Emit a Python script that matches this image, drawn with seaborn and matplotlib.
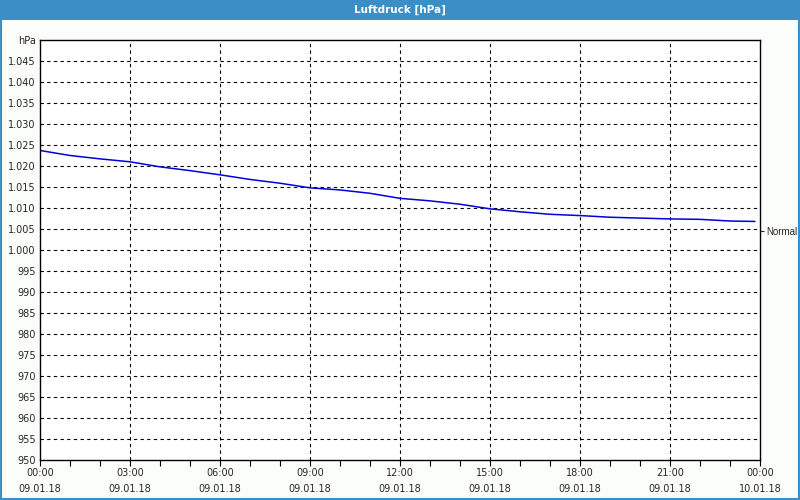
import matplotlib
matplotlib.use("Agg")
import matplotlib.pyplot as plt
import matplotlib.patches as mpatches
import seaborn as sns
import pandas as pd
from matplotlib.ticker import FixedLocator, MultipleLocator

# ---- data ----
hours = [0, 1, 2, 3, 4, 5, 6, 7, 8, 9, 10, 11, 12, 13, 14, 15, 16, 17, 18, 19,
         20, 21, 22, 23, 23.83]
pressure = [1023.7, 1022.5, 1021.7, 1021.0, 1019.8, 1018.9, 1017.9, 1016.8,
            1015.9, 1014.8, 1014.3, 1013.5, 1012.3, 1011.7, 1010.9, 1009.8,
            1009.1, 1008.5, 1008.2, 1007.8, 1007.6, 1007.4, 1007.3, 1006.9,
            1006.8]
x_tick_hours = [0, 3, 6, 9, 12, 15, 18, 21, 24]
x_tick_labels = ["00:00\n09.01.18", "03:00\n09.01.18", "06:00\n09.01.18",
                 "09:00\n09.01.18", "12:00\n09.01.18", "15:00\n09.01.18",
                 "18:00\n09.01.18", "21:00\n09.01.18", "00:00\n10.01.18"]
y_ticks = [950, 955, 960, 965, 970, 975, 980, 985, 990, 995, 1000, 1005, 1010,
           1015, 1020, 1025, 1030, 1035, 1040, 1045, 1050]
y_tick_labels = ["950", "955", "960", "965", "970", "975", "980", "985", "990",
                 "995", "1.000", "1.005", "1.010", "1.015", "1.020", "1.025",
                 "1.030", "1.035", "1.040", "1.045", "hPa"]
normal_value = 1004.5
normal_label = "Normal"
title = "Luftdruck [hPa]"

df = pd.DataFrame({"hour": hours, "pressure": pressure})

sns.set_style("white")
plt.rcParams["font.family"] = ["DejaVu Sans"]

BG = "#fbfdfb"
BLUE = "#3c8fc6"
fig = plt.figure(figsize=(8, 5), dpi=100, facecolor=BG)
ax = fig.add_axes([40 / 800, 1 - 460 / 500, 720 / 800, 420 / 500])
ax.set_facecolor("white")

sns.lineplot(data=df, x="hour", y="pressure", ax=ax, color="#0000dd",
             linewidth=1.1)

ax.set_xlim(0, 24)
ax.set_ylim(950, 1050)
ax.xaxis.set_major_locator(FixedLocator(x_tick_hours))
ax.set_xticklabels(x_tick_labels, fontsize=7, linespacing=1.75)
ax.xaxis.set_minor_locator(MultipleLocator(1))
ax.yaxis.set_major_locator(FixedLocator(y_ticks))
ax.set_yticklabels(y_tick_labels, fontsize=7)
ax.set_xlabel("")
ax.set_ylabel("")

ax.tick_params(axis="x", which="both", direction="out", length=4, width=0.8,
               color="black", pad=2, bottom=True)
ax.tick_params(axis="y", which="both", length=0, pad=3)

ax.grid(True, which="major", color="black", linestyle=(0, (3, 3)),
        linewidth=0.8)
for s in ax.spines.values():
    s.set_visible(True)
    s.set_color("black")
    s.set_linewidth(1.0)

# hide grid lines at the frame edges
for gl in ax.get_ygridlines()[-1:] + ax.get_ygridlines()[:1]:
    gl.set_visible(False)
for gl in ax.get_xgridlines()[:1] + ax.get_xgridlines()[-1:]:
    gl.set_visible(False)

# right-hand "Normal" marker
ax2 = ax.twinx()
ax2.set_ylim(950, 1050)
ax2.set_yticks([normal_value])
ax2.set_yticklabels([normal_label], fontsize=7, family="Liberation Sans")
ax2.tick_params(axis="y", direction="out", length=3, width=0.8, pad=1.5)
for s in ax2.spines.values():
    s.set_visible(False)
ax2.grid(False)

# title bar and border
fig.patches.append(mpatches.Rectangle((0, 1 - 20 / 500), 1, 20 / 500,
                                      transform=fig.transFigure,
                                      facecolor=BLUE, edgecolor="none",
                                      zorder=0))
fig.patches.append(mpatches.Rectangle((0.5 / 800, 1 / 500), 798.5 / 800,
                                      499 / 500, transform=fig.transFigure,
                                      facecolor="none", edgecolor=BLUE,
                                      linewidth=1.5, zorder=0))
fig.text(0.5, 1 - 10 / 500, title, ha="center", va="center", color="white",
         fontsize=7.5, fontweight="bold")

fig.savefig("out.png", dpi=100, facecolor=BG)
